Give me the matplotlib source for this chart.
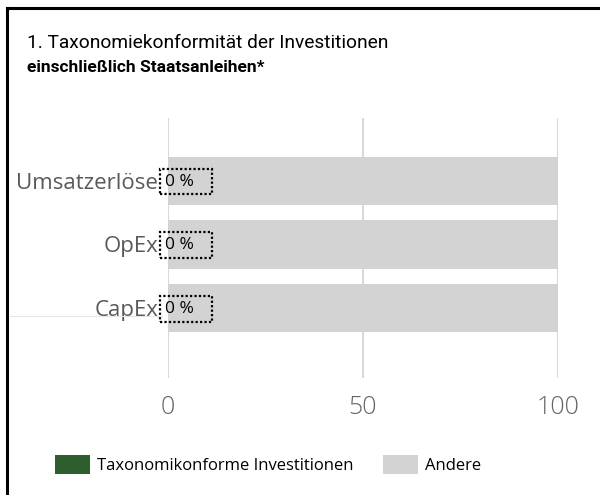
import matplotlib.pyplot as plt
from matplotlib.lines import Line2D

plt.rcParams['font.family'] = ['Open Sans', 'DejaVu Sans']

# data
categories = ['Umsatzerlöse', 'OpEx', 'CapEx']
aligned = [0, 0, 0]
other = [100, 100, 100]
labels = ['0 %', '0 %', '0 %']
xticks = [0, 50, 100]

green = '#2E5E2E'
grey = '#D3D3D3'
txt_grey = '#595959'

fig = plt.figure(figsize=(6, 4.95), dpi=100)
ax = fig.add_axes([0.28, 0.2364, 0.65, 0.5252])

ypos = [2, 1, 0]
b1 = ax.barh(ypos, aligned, height=0.76, color=green, label='Taxonomikonforme Investitionen', zorder=3)
b2 = ax.barh(ypos, other, left=aligned, height=0.76, color=grey, label='Andere', zorder=2)

# data labels with dotted box
for y, a, lab in zip(ypos, aligned, labels):
    ax.annotate(lab + '   ', xy=(a, y), xytext=(-2.5, -0.5), textcoords='offset points',
                ha='left', va='center', fontsize=12.5, color='black', zorder=5,
                bbox=dict(boxstyle='square,pad=0.28', fc='none', ec='black',
                          ls=(0, (1, 1)), lw=1.6))

ax.set_xlim(0, 100)
ax.set_ylim(-1.1, 2.99)
ax.set_xticks(xticks)
ax.set_yticks(ypos)
ax.set_yticklabels(categories)
ax.tick_params(axis='x', length=0, pad=12, labelsize=18, labelcolor='#666666')
ax.tick_params(axis='y', length=0, pad=7, labelsize=16, labelcolor=txt_grey)
for t in ax.get_xticklabels():
    t.set_fontweight('light')
ax.grid(axis='x', color='#D9D9D9', lw=1.5, zorder=0)
ax.set_axisbelow(True)
for s in ax.spines.values():
    s.set_visible(False)

# title
title_font = ['Roboto', 'DejaVu Sans']
fig.text(0.045, 0.903, '1. Taxonomiekonformität der Investitionen', fontsize=13.8,
         color='black', va='baseline', family=title_font)
fig.text(0.045, 0.855, 'einschließlich Staatsanleihen*', fontsize=12.5,
         color='black', va='baseline', fontweight='bold', family=title_font)

# legend
fig.legend(handles=[b1, b2], loc='center left', bbox_to_anchor=(0.092, 0.061), ncol=2,
           frameon=False, fontsize=12, handlelength=2.1, handleheight=1.35,
           handletextpad=0.4, columnspacing=1.8, borderpad=0, borderaxespad=0)

# frame lines (top/left) and faint line
fig.add_artist(Line2D([0.011, 1.0], [0.983, 0.983], transform=fig.transFigure, color='black', lw=2.2))
fig.add_artist(Line2D([0.011, 0.011], [0.0, 0.983], transform=fig.transFigure, color='black', lw=2.2))
fig.add_artist(Line2D([0.017, 0.27], [0.362, 0.362], transform=fig.transFigure, color='#E5E5E5', lw=0.8))

fig.savefig('out.png', dpi=100)
